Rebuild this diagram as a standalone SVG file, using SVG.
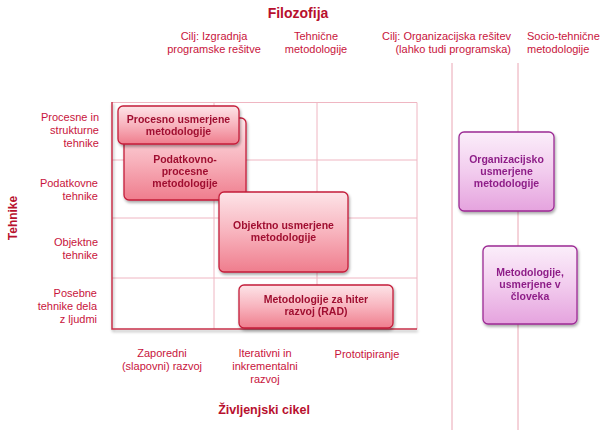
<svg xmlns="http://www.w3.org/2000/svg" width="600" height="430" viewBox="0 0 600 430">
<defs>
<linearGradient id="gRed" x1="0" y1="0" x2="0" y2="1">
<stop offset="0" stop-color="#fde4e8"/>
<stop offset="0.5" stop-color="#f8b4be"/>
<stop offset="1" stop-color="#ef7d8d"/>
</linearGradient>
<linearGradient id="gPur" x1="0" y1="0" x2="0" y2="1">
<stop offset="0" stop-color="#fbeefa"/>
<stop offset="0.5" stop-color="#f2ccee"/>
<stop offset="1" stop-color="#e5a3de"/>
</linearGradient>
<filter id="sh" x="-20%" y="-20%" width="140%" height="150%">
<feGaussianBlur in="SourceAlpha" stdDeviation="1.5"/>
<feOffset dx="1" dy="2" result="b"/>
<feComponentTransfer><feFuncA type="linear" slope="0.35"/></feComponentTransfer>
<feMerge><feMergeNode/><feMergeNode in="SourceGraphic"/></feMerge>
</filter>
</defs>
<style>
text{font-family:"Liberation Sans",Arial,sans-serif}
.lbl{font-size:11px;fill:#c8143c}
.ttl{font-weight:bold;fill:#b8102e}
.nr{fill:url(#gRed);stroke:#c41e3a;stroke-width:1.3}
.np{fill:url(#gPur);stroke:#9c2a94;stroke-width:1.3}
.tr{font-size:10.5px;font-weight:bold;fill:#a01030;text-anchor:middle}
.tp{font-size:10.5px;font-weight:bold;fill:#8e1f88;text-anchor:middle}
.grid{stroke:#efb6c2;stroke-width:1;fill:none}
.mid{text-anchor:middle}
.end{text-anchor:end}
</style>
<rect width="600" height="430" fill="#ffffff"/>

<!-- titles -->
<text class="ttl mid" x="298" y="18" font-size="14">Filozofija</text>
<text class="ttl mid" x="264" y="414" font-size="12.5">Življenjski cikel</text>
<text class="ttl mid" transform="translate(17,218) rotate(-90)" font-size="12">Tehnike</text>

<!-- top labels -->
<text class="lbl mid" x="214" y="40">Cilj: Izgradnja</text>
<text class="lbl mid" x="214" y="53">programske rešitve</text>
<text class="lbl mid" x="316" y="40">Tehnične</text>
<text class="lbl mid" x="316" y="53">metodologije</text>
<text class="lbl end" x="511" y="40">Cilj: Organizacijska rešitev</text>
<text class="lbl end" x="511" y="53">(lahko tudi programska)</text>
<text class="lbl" x="527" y="40">Socio-tehnične</text>
<text class="lbl" x="527" y="53">metodologije</text>

<!-- left labels -->
<text class="lbl end" x="99" y="121">Procesne in</text>
<text class="lbl end" x="99" y="134">strukturne</text>
<text class="lbl end" x="99" y="147">tehnike</text>
<text class="lbl end" x="98" y="187">Podatkovne</text>
<text class="lbl end" x="98" y="200">tehnike</text>
<text class="lbl end" x="98" y="246">Objektne</text>
<text class="lbl end" x="98" y="259">tehnike</text>
<text class="lbl end" x="97" y="297">Posebne</text>
<text class="lbl end" x="97" y="310">tehnike dela</text>
<text class="lbl end" x="97" y="323">z ljudmi</text>

<!-- bottom labels -->
<text class="lbl mid" x="162" y="357">Zaporedni</text>
<text class="lbl mid" x="162" y="370">(slapovni) razvoj</text>
<text class="lbl mid" x="265" y="357">Iterativni in</text>
<text class="lbl mid" x="265" y="370">inkrementalni</text>
<text class="lbl mid" x="265" y="383">razvoj</text>
<text class="lbl mid" x="367" y="358">Prototipiranje</text>

<!-- frame lines -->
<g id="connectors">
<line x1="2" y1="62.5" x2="589" y2="62.5" stroke="#d0304c" stroke-width="1.5" filter="url(#sh)"/>
<line x1="452" y1="63" x2="452" y2="430" stroke="#eaa6b4" stroke-width="1"/>
<line x1="518" y1="63" x2="518" y2="430" stroke="#eaa6b4" stroke-width="1"/>
<path class="grid" d="M112 102.5H417V329M214 102V329M317 102V329M112 160H417M112 218H417M112 278H417"/>
<path d="M112 102V329H417" fill="none" stroke="#c8304a" stroke-width="1.5" filter="url(#sh)"/>
</g>

<!-- nodes -->
<g id="podatkovno" filter="url(#sh)">
<rect class="nr" x="124" y="118" width="122" height="82" rx="5"/>
<text class="tr" x="185" y="163">Podatkovno-</text>
<text class="tr" x="185" y="175">procesne</text>
<text class="tr" x="185" y="187">metodologije</text>
</g>
<g id="procesno" filter="url(#sh)">
<rect class="nr" x="118" y="106" width="121" height="38" rx="5"/>
<text class="tr" x="178.5" y="123">Procesno usmerjene</text>
<text class="tr" x="178.5" y="135">metodologije</text>
</g>
<g id="objektno" filter="url(#sh)">
<rect class="nr" x="219" y="192" width="129" height="80" rx="5"/>
<text class="tr" x="283.5" y="229">Objektno usmerjene</text>
<text class="tr" x="283.5" y="241">metodologije</text>
</g>
<g id="rad" filter="url(#sh)">
<rect class="nr" x="239" y="285" width="154" height="43" rx="5"/>
<text class="tr" x="316" y="303">Metodologije za hiter</text>
<text class="tr" x="316" y="315">razvoj (RAD)</text>
</g>
<g id="organizacijsko" filter="url(#sh)">
<rect class="np" x="459" y="132" width="95" height="79" rx="5"/>
<text class="tp" x="506.5" y="163">Organizacijsko</text>
<text class="tp" x="506.5" y="175">usmerjene</text>
<text class="tp" x="506.5" y="187">metodologije</text>
</g>
<g id="clovek" filter="url(#sh)">
<rect class="np" x="483" y="246" width="94" height="78" rx="5"/>
<text class="tp" x="530" y="276">Metodologije,</text>
<text class="tp" x="530" y="288">usmerjene v</text>
<text class="tp" x="530" y="300">človeka</text>
</g>
</svg>
